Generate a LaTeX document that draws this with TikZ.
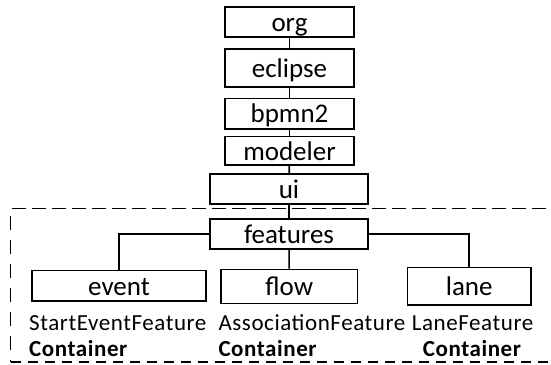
\documentclass[tikz,border=0pt]{standalone}
\usepackage{fontspec}
\setmainfont{Carlito}
\begin{document}
\begin{tikzpicture}[x=1pt,y=-1pt,
  pkg/.style={draw,line width=1.6pt,rectangle,inner sep=0pt,
    font=\fontsize{27}{29}\selectfont,text height=18.5pt,text depth=0pt},
  conn/.style={line width=1.6pt},
  cls/.style={anchor=base west,inner sep=0pt,
    font=\fontsize{23}{25}\selectfont\addfontfeature{LetterSpace=2.5}},
  ctn/.style={anchor=base west,inner sep=0pt,
    font=\fontsize{23}{25}\selectfont\bfseries\addfontfeature{LetterSpace=2.5}},
  grp/.style={line width=1.6pt}]
\useasboundingbox (0,0) rectangle (551,364);
\node[pkg,minimum width=129pt,minimum height=30pt] (org) at (289.5,22) {org};
\node[pkg,minimum width=129pt,minimum height=38pt] (eclipse) at (289.5,68) {eclipse};
\node[pkg,minimum width=129pt,minimum height=30.7pt] (bpmn) at (289.5,113.7) {bpmn2};
\node[pkg,minimum width=129pt,minimum height=28.3pt] (modeler) at (289.5,150.8) {modeler};
\node[pkg,minimum width=158pt,minimum height=30pt] (ui) at (289,189) {ui};
\node[pkg,minimum width=158pt,minimum height=30pt] (features) at (289,234) {features};
\node[pkg,minimum width=174pt,minimum height=30.3pt] (event) at (119,285.8) {event};
\node[pkg,minimum width=136.3pt,minimum height=34pt] (flow) at (289.2,286.3) {flow};
\node[pkg,minimum width=123.7pt,minimum height=37.3pt] (lane) at (469.2,286.3) {lane};
\draw[conn] (org) -- (eclipse);
\draw[conn] (eclipse) -- (bpmn);
\draw[conn] (bpmn) -- (modeler);
\draw[conn] (modeler) -- (ui);
\draw[conn] (ui) -- (features);
\draw[conn] (features) -- (flow);
\draw[conn] (features.west) -| (event.north);
\draw[conn] (features.east) -| (lane.north);
\coordinate (gtl) at (11.5,208.3);
\coordinate (gtr) at (560,208.3);
\coordinate (gbl) at (10.5,361.7);
\coordinate (gbr) at (560,361.7);
\draw[grp,dash pattern=on 14pt off 6pt] (gtl) -- (gtr);
\draw[grp,dash pattern=on 14pt off 10pt] (10.5,215.7) -- (gbl);
\draw[grp,dash pattern=on 10pt off 7pt] (gbl) -- (gbr);
\node[cls] (c1) at (29,330) {StartEventFeature};
\node[cls] (c2) at (218.3,330) {AssociationFeature};
\node[cls] (c3) at (411.7,330) {LaneFeature};
\node[ctn] (k1) at (29,356.7) {Container};
\node[ctn] (k2) at (218.3,356.7) {Container};
\node[ctn] (k3) at (422.7,356.7) {Container};
\end{tikzpicture}
\end{document}
